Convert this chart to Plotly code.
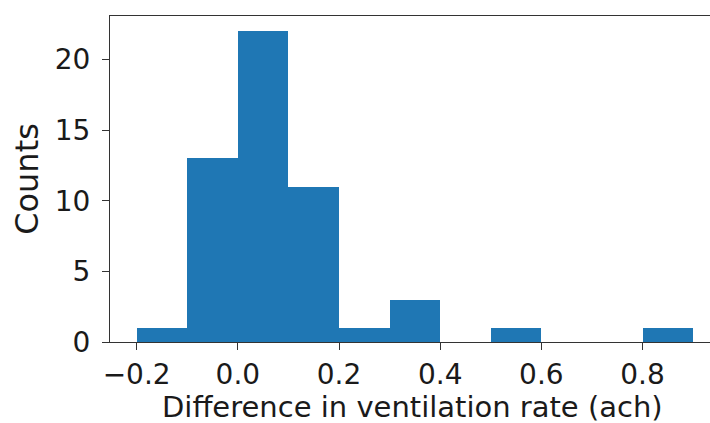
import plotly.graph_objects as go

# Histogram of differences in ventilation rate: bin edges and counts per bin
bin_edges = [-0.2, -0.1, 0.0, 0.1, 0.2, 0.3, 0.4, 0.5, 0.6, 0.7, 0.8, 0.9]
counts = [1, 13, 22, 11, 1, 3, 0, 1, 0, 0, 1]

x_ticks = [-0.2, 0.0, 0.2, 0.4, 0.6, 0.8]
x_tick_text = ["\u22120.2", "0.0", "0.2", "0.4", "0.6", "0.8"]
y_ticks = [0, 5, 10, 15, 20]

x_title = "Difference in ventilation rate (ach)"
y_title = "Counts"

centers = [(a + b) / 2 for a, b in zip(bin_edges[:-1], bin_edges[1:])]
widths = [b - a for a, b in zip(bin_edges[:-1], bin_edges[1:])]

fig = go.Figure(
    go.Bar(
        x=centers,
        y=counts,
        width=widths,
        marker=dict(color="#1f77b4", line=dict(width=0)),
        hoverinfo="x+y",
    )
)

tick_font = dict(family="DejaVu Sans", size=28, color="#1a1a1a")
title_font = dict(family="DejaVu Sans", size=32, color="#1a1a1a")
x_title_font = dict(family="DejaVu Sans", size=29, color="#1a1a1a")

fig.update_layout(
    width=710,
    height=423,
    margin=dict(l=110, r=0, t=16, b=81),
    paper_bgcolor="white",
    plot_bgcolor="white",
    bargap=0,
    showlegend=False,
    font=tick_font,
    xaxis=dict(
        range=[-0.2527, 0.9333],
        tickvals=x_ticks,
        ticktext=x_tick_text,
        tickfont=tick_font,
        ticks="outside",
        ticklen=7,
        tickwidth=1,
        tickcolor="#333333",
        ticklabelstandoff=0,
        showline=True,
        linecolor="#333333",
        linewidth=1.2,
        mirror=True,
        showgrid=False,
        zeroline=False,
    ),
    yaxis=dict(
        range=[0, 23.08],
        tickvals=y_ticks,
        tickfont=tick_font,
        ticks="outside",
        ticklen=7,
        tickwidth=1,
        tickcolor="#333333",
        ticklabelstandoff=6,
        showline=True,
        linecolor="#333333",
        linewidth=1.2,
        mirror=False,
        showgrid=False,
        zeroline=False,
        title=dict(text=y_title, font=title_font, standoff=6),
    ),
    annotations=[
        dict(
            text=x_title,
            font=x_title_font,
            xref="paper",
            yref="paper",
            x=0.504,
            y=-0.198,
            xanchor="center",
            yanchor="middle",
            borderpad=0,
            showarrow=False,
        )
    ],
)

fig.write_html("out.html")
